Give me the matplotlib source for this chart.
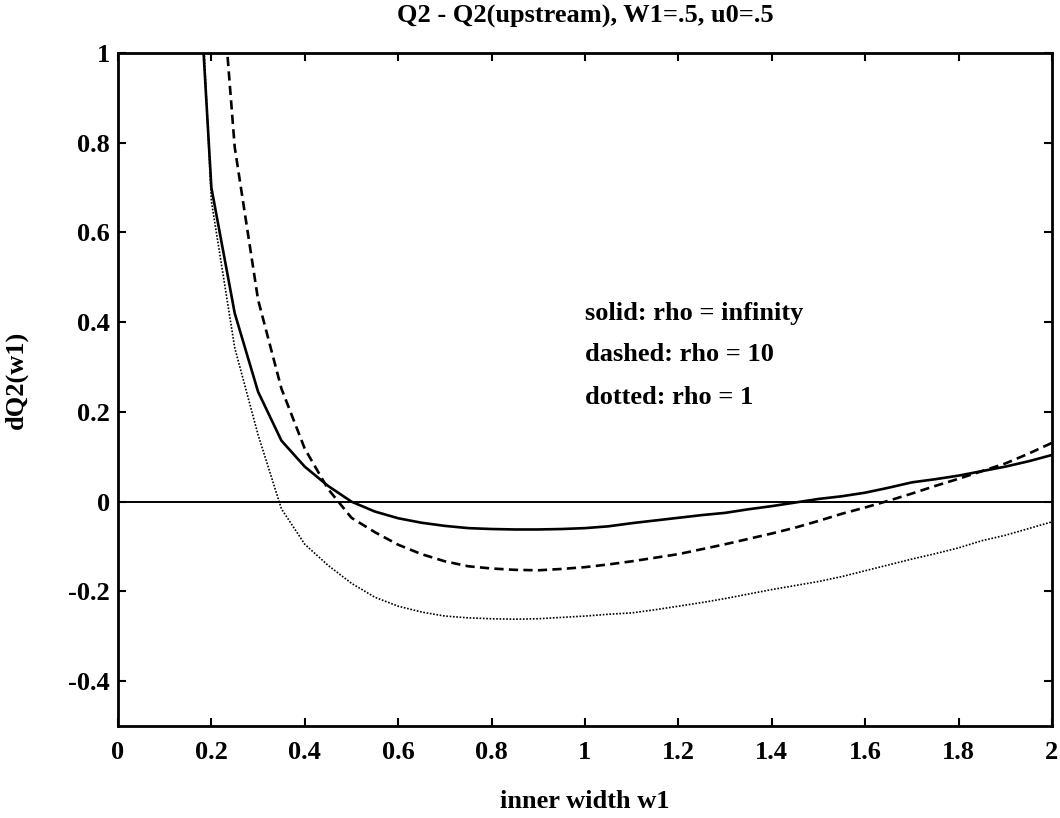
import matplotlib
matplotlib.use("Agg")
import matplotlib.pyplot as plt

plt.rcParams['font.family'] = ['Liberation Serif', 'DejaVu Serif']
plt.rcParams['axes.unicode_minus'] = False

# inner width w1, sampled every 0.05
w1 = [0.15, 0.20, 0.25, 0.30, 0.35, 0.40, 0.45, 0.50, 0.55, 0.60,
      0.65, 0.70, 0.75, 0.80, 0.85, 0.90, 0.95, 1.00, 1.05, 1.10,
      1.15, 1.20, 1.25, 1.30, 1.35, 1.40, 1.45, 1.50, 1.55, 1.60,
      1.65, 1.70, 1.75, 1.80, 1.85, 1.90, 1.95, 2.00]

# rho = infinity (solid)
dq_inf = [1.60, 0.70, 0.42, 0.245, 0.136, 0.078, 0.035, 0.000, -0.022, -0.037,
          -0.047, -0.054, -0.059, -0.061, -0.062, -0.062, -0.061, -0.059, -0.055, -0.048,
          -0.042, -0.036, -0.030, -0.025, -0.017, -0.010, -0.002, 0.006, 0.012, 0.020,
          0.031, 0.043, 0.050, 0.058, 0.068, 0.078, 0.090, 0.104]

# rho = 10 (dashed)
dq_10 = [2.80, 1.45, 0.79, 0.45, 0.252, 0.118, 0.028, -0.036, -0.068, -0.096,
         -0.117, -0.133, -0.144, -0.149, -0.152, -0.153, -0.150, -0.146, -0.140, -0.133,
         -0.125, -0.117, -0.106, -0.095, -0.083, -0.071, -0.058, -0.043, -0.027, -0.013,
         0.002, 0.018, 0.035, 0.051, 0.068, 0.085, 0.107, 0.131]

# rho = 1 (dotted)
dq_1 = [1.75, 0.67, 0.343, 0.149, -0.016, -0.095, -0.142, -0.182, -0.213, -0.233,
        -0.246, -0.255, -0.259, -0.261, -0.262, -0.261, -0.258, -0.255, -0.251, -0.248,
        -0.241, -0.233, -0.225, -0.216, -0.206, -0.196, -0.187, -0.178, -0.167, -0.154,
        -0.141, -0.128, -0.116, -0.103, -0.087, -0.075, -0.060, -0.045]

xticks = [0, 0.2, 0.4, 0.6, 0.8, 1.0, 1.2, 1.4, 1.6, 1.8, 2.0]
xtick_labels = ["0", "0.2", "0.4", "0.6", "0.8", "1", "1.2", "1.4", "1.6", "1.8", "2"]
yticks = [-0.4, -0.2, 0, 0.2, 0.4, 0.6, 0.8, 1.0]
ytick_labels = ["-0.4", "-0.2", "0", "0.2", "0.4", "0.6", "0.8", "1"]

notes = ["solid: rho = infinity", "dashed: rho = 10", "dotted: rho = 1"]
note_y = [0.42, 0.327, 0.232]

fs = 19

fig = plt.figure(figsize=(10.6, 8.18), dpi=100)
ax = fig.add_axes([0.1113, 0.1125, 0.8811, 0.8227])

ax.plot(w1, dq_inf, color="black", lw=1.9, solid_joinstyle="miter")
ax.plot(w1, dq_10, color="black", lw=1.9, dashes=(3.5, 2.0))
ax.plot(w1, dq_1, color="black", lw=1.2, dashes=(1.0, 1.0))
ax.plot([0, 2], [0, 0], color="black", lw=1.4)

ax.set_xlim(0, 2)
ax.set_ylim(-0.5, 1)
ax.set_xticks(xticks)
ax.set_xticklabels(xtick_labels)
ax.set_yticks(yticks)
ax.set_yticklabels(ytick_labels)
ax.tick_params(direction="in", top=True, right=True, length=6, width=1.5,
               labelsize=fs)
ax.tick_params(axis="x", pad=11)
ax.tick_params(axis="y", pad=6)
for lab in ax.get_xticklabels() + ax.get_yticklabels():
    lab.set_fontweight("bold")
for sp in ax.spines.values():
    sp.set_linewidth(2.0)

for txt, yy in zip(notes, note_y):
    ax.text(1.0, yy, txt, fontsize=fs, fontweight="bold", va="center", ha="left")

ax.set_title("Q2 - Q2(upstream), W1=.5, u0=.5", fontsize=fs, fontweight="bold", pad=22)
ax.set_xlabel("inner width w1", fontsize=fs, fontweight="bold")
ax.set_ylabel("dQ2(w1)", fontsize=fs, fontweight="bold")
ax.xaxis.set_label_coords(0.5, -0.095)
ax.yaxis.set_label_coords(-0.096, 0.515)

fig.savefig("out.png", dpi=100)
